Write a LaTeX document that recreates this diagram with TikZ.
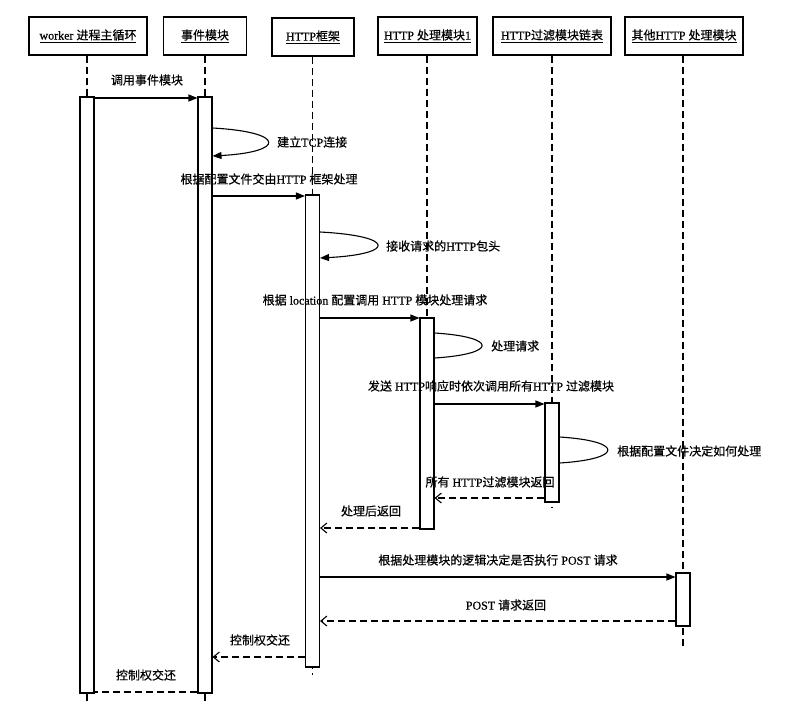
\documentclass[tikz,border=0pt]{standalone}
\usepackage{fontspec}
\setmainfont{Liberation Serif}[FakeBold=0.5]
\newfontfamily\cjk{Noto Sans CJK SC}[FakeBold=0.5]
\newcommand{\zh}[1]{{\cjk #1}}
\usetikzlibrary{arrows.meta,calc}
\begin{document}
\begin{tikzpicture}[x=1pt,y=-1pt,
  font=\fontsize{12}{14}\selectfont,
  hdr/.style={draw, line width=1.1pt, minimum height=38pt, inner sep=0pt, fill=white},
  bar/.style={draw, fill=white, line width=1.1pt, minimum width=14pt, inner sep=0pt},
  life/.style={dash pattern=on 7pt off 4pt, line width=1.1pt},
  call/.style={line width=1.1pt, -{Triangle[length=9pt,width=7pt]}},
  ret/.style={line width=1.1pt, dash pattern=on 7pt off 4pt, -{Straight Barb[length=6pt,width=10pt]}},
  retplain/.style={line width=1.1pt, dash pattern=on 7pt off 4pt},
  selfc/.style={line width=1.1pt},
  selfa/.style={line width=1.1pt, -{Triangle[length=9pt,width=7pt]}},
  lbl/.style={inner sep=0pt}]
\useasboundingbox[fill=white] (0,0) rectangle (804,710);

% headers
\node[hdr, minimum width=118pt] (h1) at (88,36) {\underline{worker \zh{进程主循环}}};
\node[hdr, minimum width=83pt]  (h2) at (205,36) {\underline{\zh{事件模块}}};
\node[hdr, minimum width=82pt]  (h3) at (313,37) {\underline{HTTP\zh{框架}}};
\node[hdr, minimum width=99pt]  (h4) at (427.5,36) {\underline{HTTP \zh{处理模块}1}};
\node[hdr, minimum width=118pt] (h5) at (552,36) {\underline{HTTP\zh{过滤模块链表}}};
\node[hdr, minimum width=118pt] (h6) at (684,36) {\underline{\zh{其他}HTTP \zh{处理模块}}};

% lifeline ends
\coordinate (e1) at (87,703);
\coordinate (e2) at (205,703);
\coordinate (e3) at (312.5,675);
\coordinate (e4) at (427,528);
\coordinate (e5) at (552,508);
\coordinate (e6) at (683,648);

\draw[life] (h1.south -| e1) -- (e1);
\draw[life] (h2.south -| e2) -- (e2);
\draw[life] (h3.south -| e3) -- (e3);
\draw[life] (h4.south -| e4) -- (e4);
\draw[life] (h5.south -| e5) -- (e5);
\draw[life] (h6.south -| e6) -- (e6);

% activation bars
\node[bar, minimum height=596pt] (b1) at (87,395) {};
\node[bar, minimum height=596pt] (b2) at (205,395) {};
\node[bar, minimum height=472pt] (b3) at (312.5,431) {};
\node[bar, minimum height=211pt] (b4) at (427,423.5) {};
\node[bar, minimum height=99pt]  (b5) at (552,452.5) {};
\node[bar, minimum height=53pt]  (b6) at (683,599.5) {};

% messages
\draw[call] (b1.east |- 0,98) -- (b2.west |- 0,98);
\node[lbl] (l1) at (147,80) {\zh{调用事件模块}};

\draw[selfa] (b2.east |- 0,128) .. controls (286,132) and (286,152) .. (b2.east |- 0,156);
\node[lbl, anchor=west] (l2) at (277,142) {\zh{建立}TCP\zh{连接}};

\draw[call] (b2.east |- 0,196) -- (b3.west |- 0,196);
\node[lbl] (l3) at (269,179) {\zh{根据配置文件交由}HTTP \zh{框架处理}};

\draw[selfa] (b3.east |- 0,232) .. controls (396,236) and (396,254) .. (b3.east |- 0,258);
\node[lbl, anchor=west] (l4) at (386,246) {\zh{接收请求的}HTTP\zh{包头}};

\draw[call] (b3.east |- 0,318) -- (b4.west |- 0,318);
\node[lbl] (l5) at (375,300) {\zh{根据} location \zh{配置调用} HTTP \zh{模块处理请求}};

\draw[selfc] (b4.east |- 0,333) .. controls (498,337) and (498,354) .. (b4.east |- 0,358);
\node[lbl, anchor=west] (l6) at (491,346) {\zh{处理请求}};

\draw[call] (b4.east |- 0,404) -- (b5.west |- 0,404);
\node[lbl] (l7) at (491,386) {\zh{发送} HTTP\zh{响应时依次调用所有}HTTP \zh{过滤模块}};

\draw[selfc] (b5.east |- 0,437) .. controls (624,441) and (624,459) .. (b5.east |- 0,463);
\node[lbl, anchor=west] (l8) at (617,451) {\zh{根据配置文件决定如何处理}};

\draw[ret] (b5.west |- 0,498) -- (b4.east |- 0,498);
\node[lbl] (l9) at (490,482) {\zh{所有} HTTP\zh{过滤模块返回}};

\draw[ret] (b4.west |- 0,528) -- (b3.east |- 0,528);
\node[lbl] (l10) at (371,511) {\zh{处理后返回}};

\draw[call] (b3.east |- 0,577) -- (b6.west |- 0,577);
\node[lbl] (l11) at (498,560) {\zh{根据处理模块的逻辑决定是否执行} POST \zh{请求}};

\draw[ret] (b6.west |- 0,621) -- (b3.east |- 0,621);
\node[lbl] (l12) at (506,605) {POST \zh{请求返回}};

\draw[ret] (b3.west |- 0,657) -- (b2.east |- 0,657);
\node[lbl] (l13) at (260,640) {\zh{控制权交还}};

\draw[retplain] (b2.west |- 0,692) -- (b1.east |- 0,692);
\node[lbl] (l14) at (146,675) {\zh{控制权交还}};
\end{tikzpicture}
\end{document}
